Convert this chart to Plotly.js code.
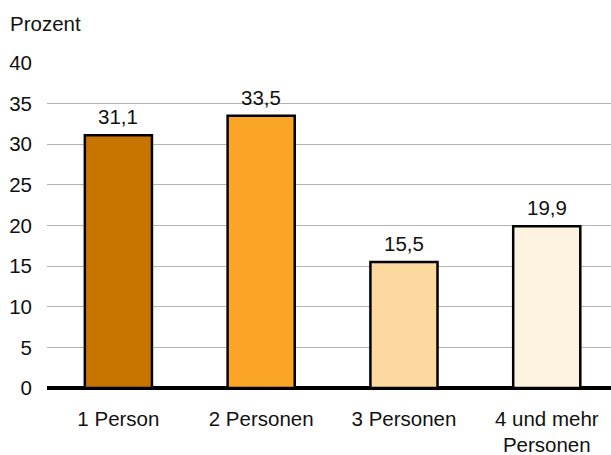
<!DOCTYPE html>
<html>
<head>
<meta charset="utf-8">
<script src="https://cdn.plot.ly/plotly-3.0.1.min.js"></script>
<style>html,body{margin:0;padding:0;background:#fff;}#chart{width:611px;height:455px;}</style>
</head>
<body>
<div id="chart"></div>
<script>
var categories = ["1 Person", "2 Personen", "3 Personen", "4 und mehr<br>Personen"];
var values = [31.1, 33.5, 15.5, 19.9];
var valueLabels = ["31,1", "33,5", "15,5", "19,9"];
var barColors = ["#C87500", "#FBA526", "#FDD9A0", "#FEF2E0"];
var yTicks = [0, 5, 10, 15, 20, 25, 30, 35, 40];
var yTitle = "Prozent";

var font = {family: "Liberation Sans, Arial, sans-serif", size: 20.5, color: "#111"};

var trace = {
  type: "bar",
  x: categories,
  y: values,
  width: 0.47,
  marker: {color: barColors, line: {color: "#000", width: 2.5}},
  hoverinfo: "none"
};

var annotations = categories.map(function(c, i){
  return {x: c, y: values[i], xref: "x", yref: "y", text: valueLabels[i],
    showarrow: false, yanchor: "bottom", yshift: 5, font: font};
});
annotations.push({xref: "paper", yref: "paper", x: 0, y: 1, xanchor: "left", yanchor: "bottom",
  xshift: -39, yshift: 26, text: yTitle, showarrow: false, font: font});

var layout = {
  width: 611, height: 455,
  margin: {l: 47, r: 0, t: 63, b: 67},
  paper_bgcolor: "#fff", plot_bgcolor: "#fff",
  font: font,
  showlegend: false,
  xaxis: {type: "category", range: [-0.5, 3.45], showgrid: false, showline: false,
    ticks: "", ticklabelstandoff: 16, tickfont: font, fixedrange: true},
  yaxis: {range: [0, 40], tickvals: yTicks, ticktext: yTicks.map(String),
    showgrid: true, gridcolor: "#b3b3b3", gridwidth: 1,
    zeroline: true, zerolinecolor: "#000", zerolinewidth: 4,
    showline: false, ticks: "", ticklabelstandoff: 14, tickfont: font, fixedrange: true},
  annotations: annotations,
  bargap: 0.5
};

Plotly.newPlot("chart", [trace], layout, {displayModeBar: false, staticPlot: true});
</script>
</body>
</html>
